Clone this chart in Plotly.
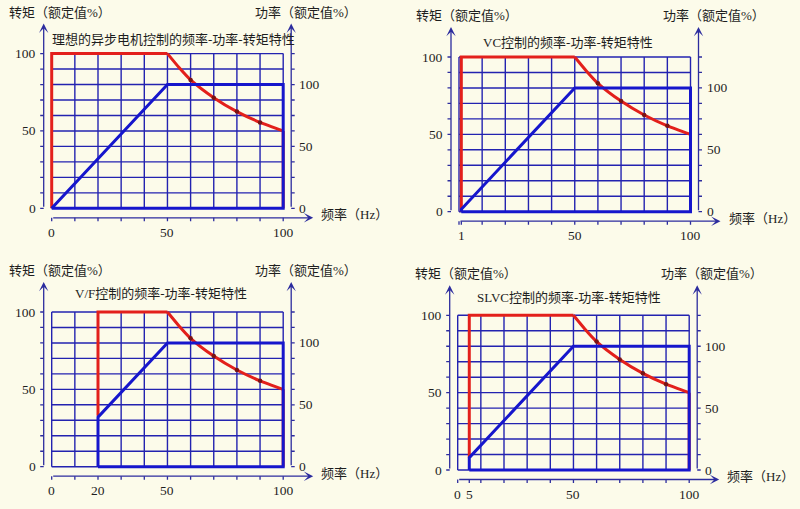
import plotly.graph_objects as go

# values
panel_titles = [
    "理想的异步电机控制的频率-功率-转矩特性",
    "VC控制的频率-功率-转矩特性",
    "V/F控制的频率-功率-转矩特性",
    "SLVC控制的频率-功率-转矩特性",
]
freq_start = [0, 1, 20, 5]        # lowest frequency of each control mode (Hz)
torque_start = [0, 0, 33, 8]      # torque (%) at that frequency
power_start = [0, 2, 40, 10]      # power (%) at that frequency
freq_base = 50
freq_max = 100
torque_rated = 100
power_rated = 100
freq_weak = [50, 55, 60, 70, 80, 90, 100]
torque_weak = [100, 91, 83, 71.5, 62.5, 55.5, 50]
dot_freq = [60, 70, 80, 90]
dot_torque = [83, 71.5, 62.5, 55.5]
grid_freq = [0, 10, 20, 30, 40, 50, 60, 70, 80, 90, 100]
grid_torque = [0, 10, 20, 30, 40, 50, 60, 70, 80, 90, 100]
torque_ticks = [0, 50, 100]
power_ticks = [0, 50, 100]
power_top = 125   # power % on the 100 % torque row (rated power sits on the 80 % row)
freq_ticks = [[0, 50, 100], [1, 50, 100], [0, 20, 50, 100], [0, 5, 50, 100]]

# page geometry (pixels)
W, H = 800, 509
PX_100HZ = 231.5
PX_100PCT = 154.7
origin_px = [(51.7, 208.3), (459.0, 211.7), (51.7, 466.7), (457.7, 470.0)]
box_px = [(0, 400, 0, 254.5), (400, 800, 0, 254.5), (0, 400, 254.5, 509), (400, 800, 254.5, 509)]
title_px = [(122, 14), (108.5, 14.6), (109, 18.4), (111, 18.3)]

BG = "#FCFBEA"
GRID = "#2323B0"
AXIS = "#2C2C9E"
RED = "#E3201B"
BLUE = "#1616CC"
DOT = "#7A1414"
TEXT = "#1E1E1E"
FONT = "Liberation Serif, Noto Sans CJK SC, serif"

fig = go.Figure()
ann = []
hz = 100 / PX_100HZ     # Hz per pixel
pc = 100 / PX_100PCT    # torque % per pixel

for i in range(4):
    n = i + 1
    sfx = "" if n == 1 else str(n)
    xa, ya, pa = "x" + sfx, "y" + sfx, f"y{n + 4}"
    X0, Y0 = origin_px[i]
    bl, br, bt, bb = box_px[i]
    yr = [(Y0 - bb) * pc, (Y0 - bt) * pc]
    fig.update_layout({
        "xaxis" + sfx: dict(domain=[bl / W, br / W], range=[(bl - X0) * hz, (br - X0) * hz],
                            anchor=ya, visible=False, fixedrange=True),
        "yaxis" + sfx: dict(domain=[1 - bb / H, 1 - bt / H], range=yr, anchor=xa,
                            visible=False, fixedrange=True),
        f"yaxis{n + 4}": dict(range=[v * power_top / 100 for v in yr], overlaying=ya,
                              anchor=xa, visible=False, fixedrange=True),
    })

    fL = -8 * hz
    fR = freq_max + 8 * hz
    tB = -9.5 * pc
    t_tip = torque_rated + 30 * pc
    f_tip = freq_max + 30 * hz
    tick_f = 3.5 * hz
    tick_t = 3.5 * pc

    # grid
    gx, gy = [], []
    for f in grid_freq:
        gx += [f, f, None]
        gy += [grid_torque[0], grid_torque[-1], None]
    for t in grid_torque:
        gx += [grid_freq[0], grid_freq[-1], None]
        gy += [t, t, None]
    fig.add_trace(go.Scatter(x=gx, y=gy, mode="lines", line=dict(color=GRID, width=1.4),
                             xaxis=xa, yaxis=ya, hoverinfo="skip"))

    # axis tick marks
    kx, ky = [], []
    for t in grid_torque:
        kx += [fL - tick_f, fL, None, fR, fR + tick_f, None]
        ky += [t, t, None, t, t, None]
    for f in sorted(set(grid_freq + [freq_start[i]])):
        kx += [f, f, None]
        ky += [tB, tB - tick_t, None]
    fig.add_trace(go.Scatter(x=kx, y=ky, mode="lines", line=dict(color=AXIS, width=1.3),
                             xaxis=xa, yaxis=ya, hoverinfo="skip"))

    # axis lines with arrows
    arrow = dict(xref=xa, yref=ya, axref=xa, ayref=ya, showarrow=True, text="",
                 arrowhead=3, arrowsize=1.2, arrowwidth=1.3, arrowcolor=AXIS, standoff=0)
    ann.append(dict(arrow, x=fL, y=t_tip, ax=fL, ay=0))
    ann.append(dict(arrow, x=fR, y=t_tip, ax=fR, ay=0))
    ann.append(dict(arrow, x=f_tip, y=tB, ax=0, ay=tB))

    # power curve (blue, right scale)
    fs = freq_start[i]
    fig.add_trace(go.Scatter(
        x=[fs, fs, freq_base, freq_max, freq_max, fs],
        y=[0, power_start[i], power_rated, power_rated, 0, 0],
        mode="lines", line=dict(color=BLUE, width=3), xaxis=xa, yaxis=pa,
    ))

    # torque curve (red, left scale)
    fig.add_trace(go.Scatter(
        x=[fs, fs, freq_base, None, freq_max, freq_max],
        y=[torque_start[i], torque_rated, torque_rated, None, torque_weak[-1], 0],
        mode="lines", line=dict(color=RED, width=3), xaxis=xa, yaxis=ya,
    ))
    fig.add_trace(go.Scatter(
        x=freq_weak, y=torque_weak, mode="lines",
        line=dict(color=RED, width=3, shape="spline", smoothing=0.6), xaxis=xa, yaxis=ya,
    ))
    fig.add_trace(go.Scatter(
        x=dot_freq, y=dot_torque, mode="markers",
        marker=dict(color=DOT, size=4.5), xaxis=xa, yaxis=ya,
    ))

    # texts
    txt = dict(xref=xa, yref=ya, showarrow=False, font=dict(family=FONT, size=13, color=TEXT))
    ann.append(dict(txt, text=panel_titles[i], x=0, y=torque_rated, xshift=title_px[i][0],
                    yshift=title_px[i][1], xanchor="center", yanchor="middle"))
    ann.append(dict(txt, text="转矩（额定值%）", x=fL, y=torque_rated, xshift=-37, yshift=41.5,
                    xanchor="left", yanchor="middle"))
    ann.append(dict(txt, text="功率（额定值%）", x=fR, y=torque_rated, xshift=-38, yshift=41.5,
                    xanchor="left", yanchor="middle"))
    ann.append(dict(txt, text="频率（Hz）", x=freq_max, y=tB, xshift=36, yshift=3,
                    xanchor="left", yanchor="middle"))
    num = dict(txt, font=dict(family=FONT, size=13.5, color=TEXT))
    for t in torque_ticks:
        ann.append(dict(num, text=str(t), x=fL, y=t, xshift=-6, xanchor="right", yanchor="middle"))
    for p in power_ticks:
        ann.append(dict(num, yref=pa, text=str(p), x=fR, y=p, xshift=6,
                        xanchor="left", yanchor="middle"))
    for f in freq_ticks[i]:
        ann.append(dict(num, text=str(f), x=f, y=0, yshift=-24, xanchor="center", yanchor="middle"))

fig.update_layout(
    width=W, height=H,
    margin=dict(l=0, r=0, t=0, b=0),
    paper_bgcolor=BG, plot_bgcolor="rgba(0,0,0,0)",
    showlegend=False,
    annotations=ann,
)

# the default page keeps the browser's 8px body margin; drop it so the figure fills the window
fig.write_html("out.html", config={"displayModeBar": False},
               post_script="document.body.style.margin = '0';")
